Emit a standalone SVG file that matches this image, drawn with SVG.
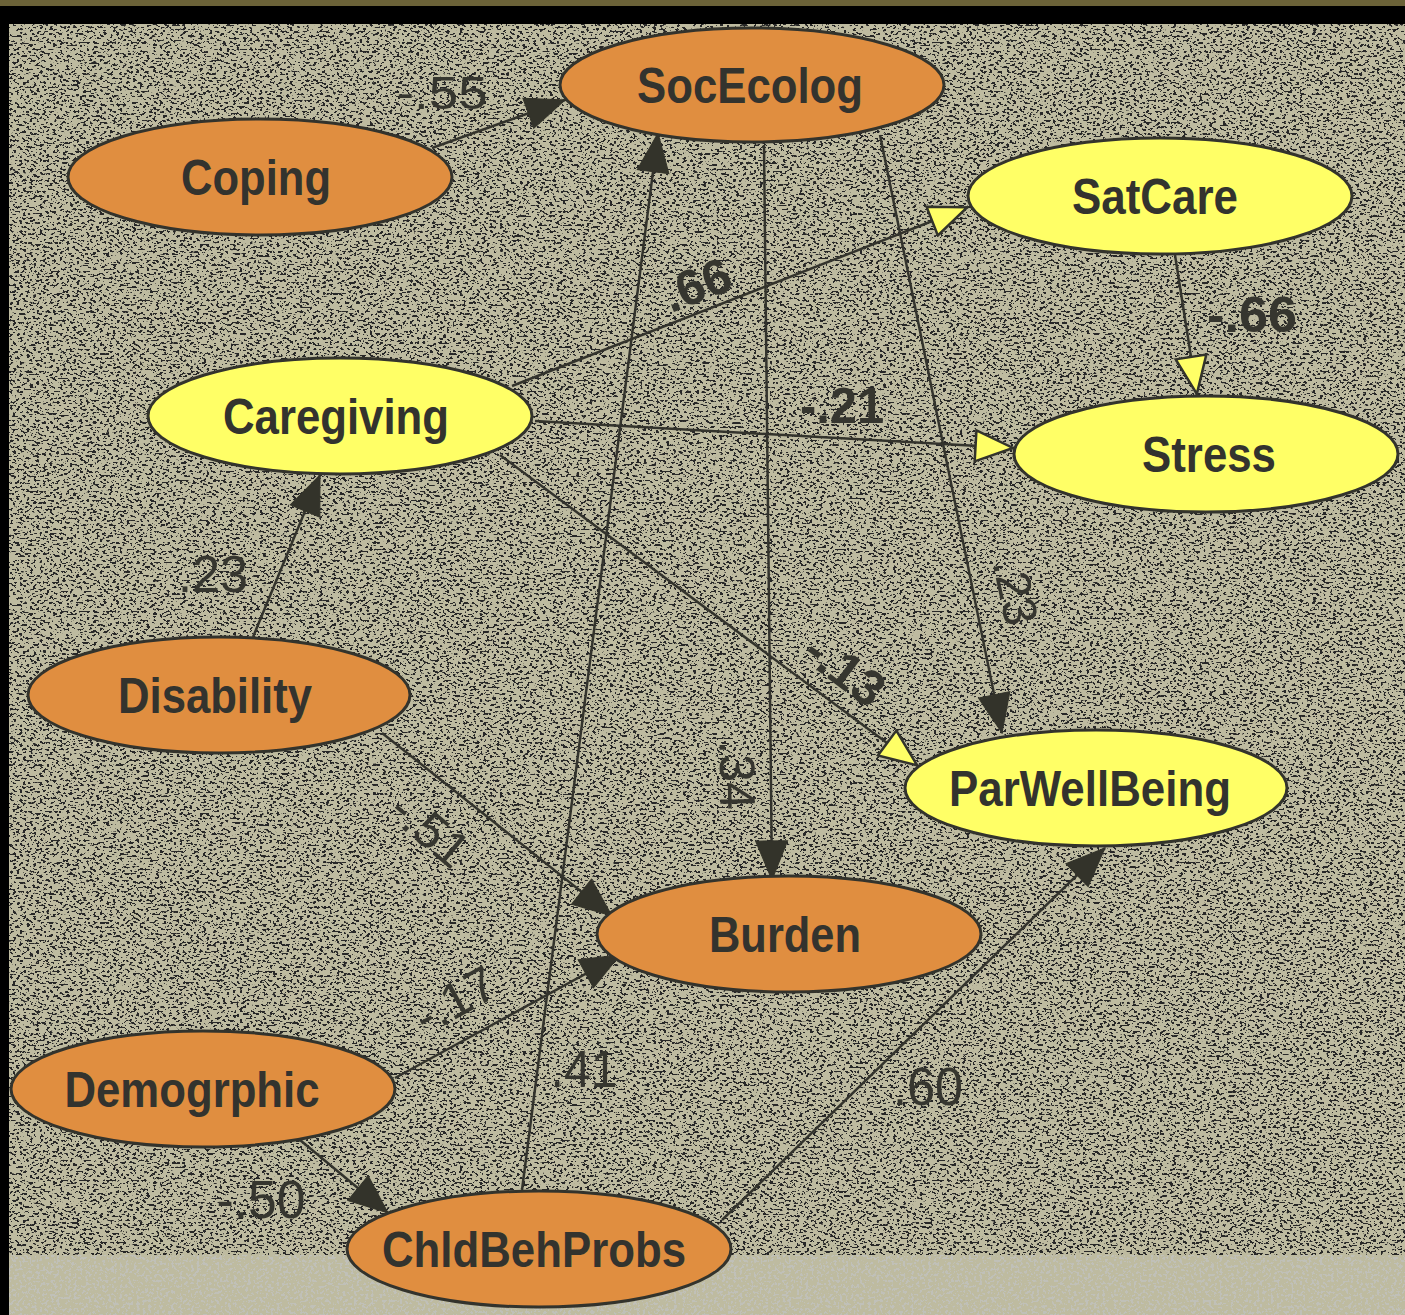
<svg xmlns="http://www.w3.org/2000/svg" width="1405" height="1315" viewBox="0 0 1405 1315">
<style>
.node ellipse{stroke:#33332c;stroke-width:3}
.orange ellipse{fill:#e08e40}
.yellow ellipse{fill:#ffff66}
.node text{font-family:"Liberation Sans",Arial,sans-serif;font-weight:bold;font-size:50px;fill:#33332e;text-anchor:middle}
.edges line{stroke:#33332c;stroke-width:2.5;fill:none}
.dark{marker-end:url(#arrDark)}
.yel{marker-end:url(#arrYel)}
.lbl{font-family:"Liberation Sans",Arial,sans-serif;fill:#36362f;text-anchor:middle}
.b{font-weight:bold}
</style>
<defs>
<marker id="arrDark" markerUnits="userSpaceOnUse" viewBox="0 0 42 34" markerWidth="42" markerHeight="34" refX="40" refY="17" orient="auto">
<path d="M1,1 L40,17 L1,33 z" fill="#33332a" stroke="#33332a" stroke-width="1"/>
</marker>
<marker id="arrYel" markerUnits="userSpaceOnUse" viewBox="0 0 42 34" markerWidth="42" markerHeight="34" refX="40" refY="17" orient="auto">
<path d="M1.5,1.5 L39,17 L1.5,32.5 z" fill="#ffff66" stroke="#33332c" stroke-width="2.5" stroke-linejoin="miter"/>
</marker>
<filter id="speck" x="0" y="0" width="100%" height="100%" filterUnits="objectBoundingBox">
<feTurbulence type="fractalNoise" baseFrequency="0.3 0.45" numOctaves="2" seed="7" result="n"/>
<feColorMatrix in="n" type="matrix" values="0 0 0 0 0.02  0 0 0 0 0.02  0 0 0 0 0.02  -30 0 0 0 12.9"/>
</filter>
<filter id="speck2" x="0" y="0" width="100%" height="100%" filterUnits="objectBoundingBox">
<feTurbulence type="fractalNoise" baseFrequency="0.35 0.35" numOctaves="2" seed="11" result="n"/>
<feColorMatrix in="n" type="matrix" values="0 0 0 0 0.53  0 0 0 0 0.53  0 0 0 0 0.48  0 -25 0 0 11.2"/>
</filter>
</defs>
<g id="background">
<rect x="0" y="0" width="1405" height="1315" fill="#000"/>
<rect x="0" y="0" width="1405" height="6" fill="#6b6238"/>
<rect x="9" y="24" width="1396" height="1291" fill="#bebba0"/>
<rect x="9" y="24" width="1396" height="1231" fill="#fff" filter="url(#speck)"/>
<rect x="9" y="1255" width="1396" height="60" fill="#fff" filter="url(#speck2)"/>
</g>
<g id="connectors" class="edges">
<line class="dark" x1="432" y1="148" x2="565" y2="100"/>
<line class="yel" x1="512" y1="386" x2="968" y2="207"/>
<line class="yel" x1="535" y1="421" x2="1014" y2="448"/>
<line class="yel" x1="500" y1="455" x2="918" y2="766"/>
<line class="yel" x1="1175" y1="255" x2="1197" y2="395"/>
<line class="dark" x1="764" y1="145" x2="772" y2="880"/>
<line class="dark" x1="880" y1="135" x2="1002" y2="733"/>
<line class="dark" x1="253" y1="637" x2="320" y2="475"/>
<line class="dark" x1="382" y1="733" x2="612" y2="916"/>
<line class="dark" x1="395" y1="1078" x2="620" y2="955"/>
<line class="dark" x1="300" y1="1140" x2="388" y2="1213"/>
<line class="dark" x1="522" y1="1190" x2="658" y2="133"/>
<line class="dark" x1="722" y1="1220" x2="1105" y2="848"/>
</g>
<g id="edge-labels">
<text class="lbl" x="442" y="109" font-size="46" textLength="91" lengthAdjust="spacingAndGlyphs">-.55</text>
<text class="lbl b" font-size="50" transform="translate(697,285) rotate(-21)" x="0" y="17">.66</text>
<text class="lbl b" x="1252" y="332" font-size="50" textLength="90" lengthAdjust="spacingAndGlyphs">-.66</text>
<text class="lbl b" x="842" y="423" font-size="50" textLength="84" lengthAdjust="spacingAndGlyphs">-.21</text>
<text class="lbl" font-size="48" transform="translate(1015,592) rotate(78)" x="0" y="16">.23</text>
<text class="lbl b" font-size="50" transform="translate(845,670) rotate(37)" x="0" y="17">-.13</text>
<text class="lbl" x="213" y="592" font-size="52" textLength="70" lengthAdjust="spacingAndGlyphs">.23</text>
<text class="lbl" font-size="50" transform="translate(430,830) rotate(40)" x="0" y="17">-.51</text>
<text class="lbl" font-size="50" transform="translate(737,775) rotate(89)" x="0" y="17">.34</text>
<text class="lbl" font-size="50" transform="translate(455,1000) rotate(-29)" x="0" y="17">-.17</text>
<text class="lbl" x="584" y="1087" font-size="52" textLength="67" lengthAdjust="spacingAndGlyphs">.41</text>
<text class="lbl" x="928" y="1105" font-size="54" textLength="70" lengthAdjust="spacingAndGlyphs">.60</text>
<text class="lbl" x="261" y="1218" font-size="54" textLength="89" lengthAdjust="spacingAndGlyphs">-.50</text>
</g>
<g id="SocEcolog" class="node orange"><ellipse cx="752" cy="85" rx="192" ry="57"/><text x="750" y="103" textLength="226" lengthAdjust="spacingAndGlyphs">SocEcolog</text></g>
<g id="Coping" class="node orange"><ellipse cx="260" cy="177" rx="192" ry="58"/><text x="256" y="195" textLength="150" lengthAdjust="spacingAndGlyphs">Coping</text></g>
<g id="SatCare" class="node yellow"><ellipse cx="1160" cy="196" rx="192" ry="58"/><text x="1155" y="214" textLength="166" lengthAdjust="spacingAndGlyphs">SatCare</text></g>
<g id="Caregiving" class="node yellow"><ellipse cx="340" cy="416" rx="192" ry="58"/><text x="336" y="434" textLength="226" lengthAdjust="spacingAndGlyphs">Caregiving</text></g>
<g id="Stress" class="node yellow"><ellipse cx="1206" cy="454" rx="192" ry="58"/><text x="1209" y="472" textLength="134" lengthAdjust="spacingAndGlyphs">Stress</text></g>
<g id="Disability" class="node orange"><ellipse cx="219" cy="695" rx="191" ry="58"/><text x="215" y="713" textLength="194" lengthAdjust="spacingAndGlyphs">Disability</text></g>
<g id="ParWellBeing" class="node yellow"><ellipse cx="1096" cy="788" rx="191" ry="58"/><text x="1090" y="806" textLength="282" lengthAdjust="spacingAndGlyphs">ParWellBeing</text></g>
<g id="Burden" class="node orange"><ellipse cx="789" cy="934" rx="192" ry="58"/><text x="785" y="952" textLength="152" lengthAdjust="spacingAndGlyphs">Burden</text></g>
<g id="Demogrphic" class="node orange"><ellipse cx="203" cy="1089" rx="192" ry="58"/><text x="192" y="1107" textLength="255" lengthAdjust="spacingAndGlyphs">Demogrphic</text></g>
<g id="ChldBehProbs" class="node orange"><ellipse cx="539" cy="1249" rx="192" ry="58"/><text x="534" y="1267" textLength="304" lengthAdjust="spacingAndGlyphs">ChldBehProbs</text></g>
</svg>
